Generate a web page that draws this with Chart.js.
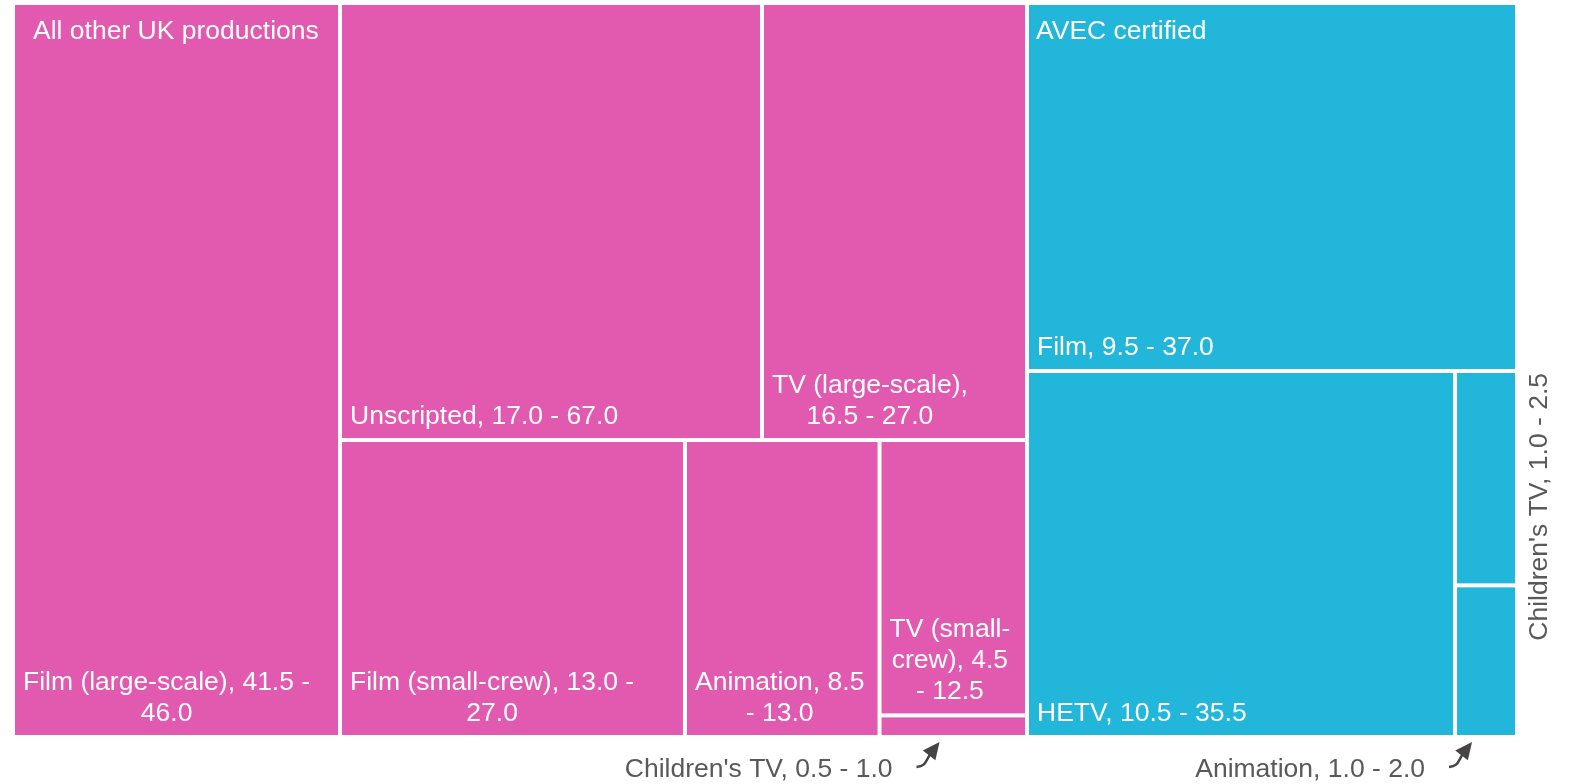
<!DOCTYPE html>
<html>
<head>
<meta charset="utf-8">
<title>Production emissions treemap</title>
<script src="https://cdn.jsdelivr.net/npm/chart.js@4/dist/chart.umd.min.js"></script>
<style>
  html, body { margin: 0; padding: 0; background: #ffffff; }
  #wrap { width: 1573px; height: 784px; }
</style>
</head>
<body>
<div id="wrap"><canvas id="chart" width="1573" height="784"></canvas></div>
<script>
// ---- Data -------------------------------------------------------------
const groups = ['All other UK productions', 'AVEC certified'];

// "All other UK productions"
const otherCategories = ['Film (large-scale)', 'Unscripted', 'TV (large-scale)', 'Film (small-crew)', 'Animation', 'TV (small-crew)', "Children's TV"];
const otherLow  = [41.5, 17.0, 16.5, 13.0, 8.5, 4.5, 0.5];
const otherHigh = [46.0, 67.0, 27.0, 27.0, 13.0, 12.5, 1.0];
const otherSize = [44.45, 34.15, 21.45, 18.97, 10.70, 7.52, 0.59];

// "AVEC certified"
const avecCategories = ['Film', 'HETV', "Children's TV", 'Animation'];
const avecLow  = [9.5, 10.5, 1.0, 1.0];
const avecHigh = [37.0, 35.5, 2.5, 2.0];
const avecSize = [33.39, 29.01, 2.46, 1.74];

// ---- Style ------------------------------------------------------------
const groupColors = ['#E15AAF', '#22B6DB'];
const groupLabelInset = [18, 7];
const FONT = '26.5px "Liberation Sans", Arial, sans-serif';
const LINE_H = 31;
const GAP = 2;           // half of the white gutter between tiles
const PAD = 8;           // label padding inside a tile
const NOTE_COLOR = '#595959';
const SQUARIFY_RATIO = 0.85;

// Labels that do not fit inside their tile are drawn outside
const outsideNotes = {
  "All other UK productions|Children's TV": { kind: 'arrow', tipDx: 58 },
  'AVEC certified|Animation': { kind: 'arrow', tipDx: 15 },
  "AVEC certified|Children's TV": { kind: 'rotated' }
};

// ---- Hierarchy --------------------------------------------------------
function buildLeaves(group, cats, low, high, size) {
  return cats.map((c, i) => ({
    group, name: c, value: size[i],
    label: c + ', ' + low[i].toFixed(1) + ' - ' + high[i].toFixed(1)
  }));
}
const tree = [
  { name: groups[0], color: groupColors[0], inset: groupLabelInset[0],
    children: buildLeaves(groups[0], otherCategories, otherLow, otherHigh, otherSize) },
  { name: groups[1], color: groupColors[1], inset: groupLabelInset[1],
    children: buildLeaves(groups[1], avecCategories, avecLow, avecHigh, avecSize) }
];
tree.forEach(g => { g.value = g.children.reduce((s, c) => s + c.value, 0); });

// Squarified tiling (rows laid along the shorter side)
function squarify(nodes, x0, y0, x1, y1, ratio) {
  let value = nodes.reduce((s, n) => s + n.value, 0);
  let i0 = 0, i1 = 0;
  const n = nodes.length;
  while (i0 < n) {
    const dx = x1 - x0, dy = y1 - y0;
    let sum = nodes[i1++].value, minV = sum, maxV = sum;
    const alpha = Math.max(dy / dx, dx / dy) / (value * ratio);
    let beta = sum * sum * alpha;
    let minRatio = Math.max(maxV / beta, beta / minV);
    for (; i1 < n; ++i1) {
      const v = nodes[i1].value;
      sum += v;
      if (v < minV) minV = v;
      if (v > maxV) maxV = v;
      beta = sum * sum * alpha;
      const r = Math.max(maxV / beta, beta / minV);
      if (r > minRatio) { sum -= v; break; }
      minRatio = r;
    }
    const row = nodes.slice(i0, i1);
    if (dx < dy) {
      const yEnd = i1 >= n ? y1 : y0 + dy * sum / value;
      let x = x0;
      row.forEach(nd => {
        const w = dx * nd.value / sum;
        Object.assign(nd, { x0: x, x1: x + w, y0: y0, y1: yEnd });
        x += w;
      });
      y0 = yEnd;
    } else {
      const xEnd = i1 >= n ? x1 : x0 + dx * sum / value;
      let y = y0;
      row.forEach(nd => {
        const h = dy * nd.value / sum;
        Object.assign(nd, { x0: x0, x1: xEnd, y0: y, y1: y + h });
        y += h;
      });
      x0 = xEnd;
    }
    value -= sum;
    i0 = i1;
  }
}

// Break a label at spaces and after word-internal hyphens
function wrapLabel(ctx, text, maxW) {
  const pieces = [];
  text.split(' ').forEach((word, wi) => {
    const parts = word.split(/(?<=[A-Za-z]-)(?=[A-Za-z])/);
    parts.forEach((p, pi) => pieces.push({ t: p, space: wi > 0 && pi === 0 }));
  });
  const lines = [];
  let line = '';
  pieces.forEach(p => {
    const cand = line === '' ? p.t : line + (p.space ? ' ' : '') + p.t;
    if (line !== '' && ctx.measureText(cand).width > maxW) {
      lines.push(line);
      line = p.t;
    } else {
      line = cand;
    }
  });
  if (line !== '') lines.push(line);
  return lines;
}

function drawArrow(ctx, tail, tip) {
  const ang = Math.atan2(tip.y - tail.y, tip.x - tail.x) - 0.08;
  const len = 17, half = 8;
  const ux = Math.cos(ang), uy = Math.sin(ang);
  const base = { x: tip.x - ux * len, y: tip.y - uy * len };
  ctx.save();
  ctx.strokeStyle = '#454545';
  ctx.fillStyle = '#454545';
  ctx.lineWidth = 2.5;
  ctx.beginPath();
  ctx.moveTo(tail.x, tail.y);
  ctx.bezierCurveTo(tail.x + 9, tail.y - 1, base.x - ux * 7, base.y - uy * 7 + 2, base.x + ux * 2, base.y + uy * 2);
  ctx.stroke();
  ctx.beginPath();
  ctx.moveTo(tip.x, tip.y);
  ctx.lineTo(base.x - uy * half, base.y + ux * half);
  ctx.lineTo(base.x + uy * half, base.y - ux * half);
  ctx.closePath();
  ctx.fill();
  ctx.restore();
}

const treemapPlugin = {
  id: 'treemapTiles',
  afterDatasetsDraw(chart) {
    const { ctx, scales: { x, y } } = chart;
    const X0 = x.getPixelForValue(0), X1 = x.getPixelForValue(1);
    const Y0 = y.getPixelForValue(0), Y1 = y.getPixelForValue(1);

    squarify(tree, X0, Y0, X1, Y1, SQUARIFY_RATIO);
    tree.forEach(g => squarify(g.children, g.x0, g.y0, g.x1, g.y1, SQUARIFY_RATIO));

    ctx.save();
    ctx.font = FONT;
    tree.forEach(g => {
      g.children.forEach(leaf => {
        const rx0 = leaf.x0 + GAP, ry0 = leaf.y0 + GAP;
        const rx1 = leaf.x1 - GAP, ry1 = leaf.y1 - GAP;
        ctx.fillStyle = g.color;
        ctx.fillRect(rx0, ry0, rx1 - rx0, ry1 - ry0);

        const maxW = rx1 - rx0 - 2 * PAD;
        const lines = wrapLabel(ctx, leaf.label, maxW);
        const widths = lines.map(l => ctx.measureText(l).width);
        const blockW = Math.max(...widths);
        const fits = blockW <= maxW && lines.length * LINE_H + 8 <= ry1 - ry0;

        if (fits) {
          ctx.fillStyle = '#ffffff';
          ctx.textAlign = 'center';
          ctx.textBaseline = 'alphabetic';
          const cx = rx0 + PAD + blockW / 2;
          lines.forEach((l, i) => {
            const by = ry1 - 14 - (lines.length - 1 - i) * LINE_H;
            ctx.fillText(l, cx, by);
          });
        } else {
          const note = outsideNotes[leaf.group + '|' + leaf.name];
          if (!note) return;
          ctx.fillStyle = NOTE_COLOR;
          ctx.textBaseline = 'alphabetic';
          if (note.kind === 'rotated') {
            ctx.save();
            ctx.translate(rx1 + 32, ry0);
            ctx.rotate(-Math.PI / 2);
            ctx.textAlign = 'right';
            ctx.fillText(leaf.label, 0, 0);
            ctx.restore();
          } else {
            const tip = { x: rx0 + note.tipDx, y: ry1 + 7 };
            const tail = { x: tip.x - 23, y: tip.y + 25 };
            ctx.textAlign = 'right';
            ctx.fillText(leaf.label, tail.x - 24, ry1 + 42);
            drawArrow(ctx, tail, tip);
          }
        }
      });
    });

    // Group titles
    ctx.fillStyle = '#ffffff';
    ctx.textAlign = 'left';
    ctx.textBaseline = 'alphabetic';
    tree.forEach(g => {
      ctx.fillText(g.name, g.x0 + GAP + g.inset, g.y0 + GAP + 34);
    });
    ctx.restore();
  }
};

new Chart(document.getElementById('chart').getContext('2d'), {
  type: 'scatter',
  data: { datasets: [{ data: [], pointRadius: 0 }] },
  options: {
    responsive: false,
    animation: false,
    events: [],
    layout: { padding: { left: 13, right: 56, top: 3, bottom: 47 } },
    scales: {
      x: { type: 'linear', min: 0, max: 1, display: false },
      y: { type: 'linear', min: 0, max: 1, reverse: true, display: false }
    },
    plugins: { legend: { display: false }, tooltip: { enabled: false } }
  },
  plugins: [treemapPlugin]
});
</script>
</body>
</html>
